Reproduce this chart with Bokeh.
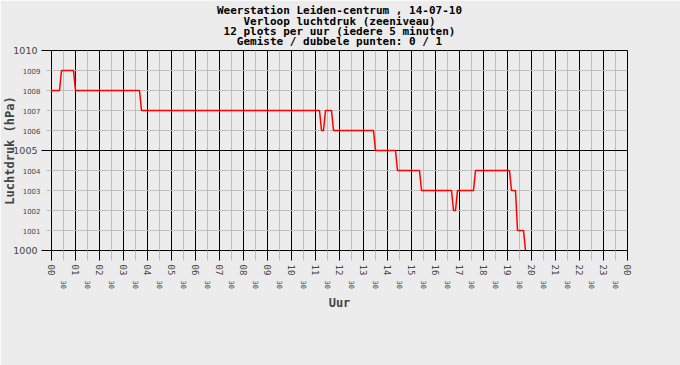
from bokeh.plotting import figure
from bokeh.models import FixedTicker, LinearAxis, Range1d, Title, Grid
from bokeh.embed import file_html
from bokeh.resources import INLINE

# ---- data -------------------------------------------------------------
title_lines = [
    "Weerstation Leiden-centrum , 14-07-10",
    "Verloop luchtdruk (zeeniveau)",
    "12 plots per uur (iedere 5 minuten)",
    "Gemiste / dubbele punten: 0 / 1",
]
y_title = "Luchtdruk (hPa)"
x_title = "Uur"

# times (HH:MM) at which the 5-minute series changes level, with value
times = ["00:00", "00:20", "00:25", "00:55", "01:00", "03:40", "03:45",
         "11:10", "11:15", "11:20", "11:25", "11:40", "11:45", "13:25",
         "13:30", "14:20", "14:25", "15:20", "15:25", "16:40", "16:45",
         "16:50", "16:55", "17:35", "17:40", "19:05", "19:10", "19:20",
         "19:25", "19:40", "19:45"]
pressure = [1008, 1008, 1009, 1009, 1008, 1008, 1007,
            1007, 1006, 1006, 1007, 1007, 1006, 1006,
            1005, 1005, 1004, 1004, 1003, 1003, 1002,
            1002, 1003, 1003, 1004, 1004, 1003, 1003,
            1001, 1001, 1000]

hour_ticks = list(range(0, 25))
hour_labels = ["00", "01", "02", "03", "04", "05", "06", "07", "08", "09",
               "10", "11", "12", "13", "14", "15", "16", "17", "18", "19",
               "20", "21", "22", "23", "00"]
half_ticks = [h + 0.5 for h in range(24)]
half_label = "30"

y_major = [1000, 1005, 1010]
y_minor = [1001, 1002, 1003, 1004, 1006, 1007, 1008, 1009]

# ---- figure -----------------------------------------------------------
BG = "#ECECEC"
GREY = "#BEBEBE"

hours = [int(t[:2]) + int(t[3:]) / 60 for t in times]

p = figure(width=680, height=365, output_backend="svg", toolbar_location=None,
           x_range=Range1d(0, 24), y_range=Range1d(1000, 1010),
           x_axis_type=None, y_axis_type=None,
           min_border_left=50, min_border_right=53,
           min_border_top=50, min_border_bottom=115,
           background_fill_color=BG, border_fill_color=BG,
           outline_line_color="black", outline_line_width=1)

# centre each title line (monospaced font) with non-breaking spaces
w = max(len(s) for s in title_lines)
centred = ["\u00a0" * ((w - len(s) + 1) // 2) + s for s in title_lines]
p.add_layout(Title(text="\n".join(centred), align="center",
                   text_font="DejaVu Sans Mono", text_font_style="bold",
                   text_font_size="11px", text_color="black",
                   standoff=4, offset=0, text_line_height=0.8), "above")

# grids
p.add_layout(Grid(dimension=0,
                  ticker=FixedTicker(ticks=hour_ticks, minor_ticks=half_ticks),
                  grid_line_color="black", grid_line_width=1,
                  minor_grid_line_color=GREY, minor_grid_line_width=1))
p.add_layout(Grid(dimension=1,
                  ticker=FixedTicker(ticks=y_major, minor_ticks=y_minor),
                  grid_line_color="black", grid_line_width=1,
                  minor_grid_line_color=GREY, minor_grid_line_width=1))

# inner y axis: small labels on the intermediate values,
# long black ticks on the main values
yin = LinearAxis(ticker=FixedTicker(ticks=y_minor, minor_ticks=y_major),
                 axis_line_color="black",
                 major_tick_out=5, major_tick_in=0,
                 minor_tick_out=10, minor_tick_in=0,
                 major_tick_line_color=GREY, minor_tick_line_color="black",
                 major_label_standoff=1,
                 major_label_text_font="DejaVu Sans",
                 major_label_text_font_size="7px")
p.add_layout(yin, "left")

# outer y axis: larger labels on the main values (pulled inwards) + title
yout = LinearAxis(ticker=FixedTicker(ticks=y_major, minor_ticks=[]),
                  axis_label=y_title,
                  axis_line_color=None, major_tick_line_color=None,
                  minor_tick_line_color=None,
                  major_tick_out=0, major_tick_in=0,
                  major_label_standoff=-18,
                  major_label_text_font="DejaVu Sans",
                  major_label_text_font_size="9.5px",
                  axis_label_standoff=-7,
                  axis_label_text_font="DejaVu Sans Mono",
                  axis_label_text_font_style="bold",
                  axis_label_text_font_size="12px")
p.add_layout(yout, "left")

# x axis: hours
xax1 = LinearAxis(ticker=FixedTicker(ticks=hour_ticks, minor_ticks=half_ticks),
                  major_label_overrides={t: l for t, l in zip(hour_ticks, hour_labels)},
                  major_label_orientation="vertical",
                  axis_line_color="black",
                  major_tick_out=10, major_tick_in=0,
                  minor_tick_out=10, minor_tick_in=0,
                  major_tick_line_color="black", minor_tick_line_color=GREY,
                  major_label_standoff=4,
                  major_label_text_font="DejaVu Sans Mono",
                  major_label_text_font_size="9px")
p.add_layout(xax1, "below")

# x axis: half hours ("30") with axis title
xax2 = LinearAxis(ticker=FixedTicker(ticks=half_ticks, minor_ticks=[]),
                  major_label_overrides={t: half_label for t in half_ticks},
                  major_label_orientation="vertical",
                  axis_line_color=None, major_tick_line_color=None,
                  minor_tick_line_color=None,
                  major_tick_out=0, major_tick_in=0,
                  major_label_standoff=2,
                  major_label_text_font="DejaVu Sans Mono",
                  major_label_text_font_size="7px",
                  axis_label=x_title, axis_label_standoff=4,
                  axis_label_text_font="DejaVu Sans Mono",
                  axis_label_text_font_style="bold",
                  axis_label_text_font_size="12px")
p.add_layout(xax2, "below")

# data line
p.line(x=hours, y=pressure, line_color="#FF0000", line_width=1.5)

open("out.html", "w").write(file_html(p, INLINE))
